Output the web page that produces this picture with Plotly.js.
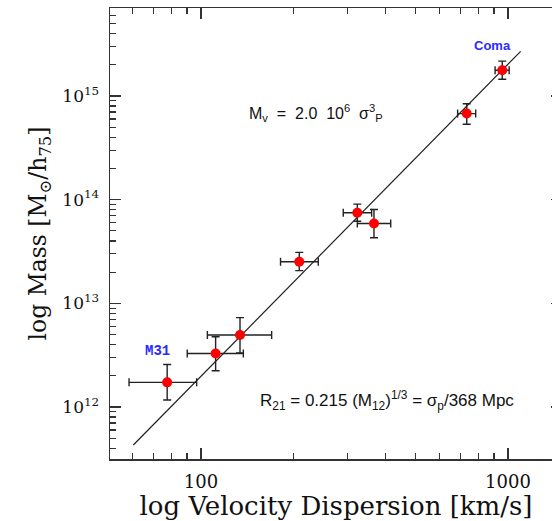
<!DOCTYPE html>
<html>
<head>
<meta charset="utf-8">
<script src="https://cdn.plot.ly/plotly-3.0.1.min.js"></script>
<style>
html,body{margin:0;padding:0;overflow:hidden;background:#fff;width:552px;height:521px;}
#chart{width:563px;height:521px;}
</style>
</head>
<body>
<div id="chart"></div>
<script>
// Velocity dispersion (km/s) and mass (M_sun/h75) of the systems
const systems = ['M31', 'S2', 'S3', 'S4', 'S5', 'S6', 'S7', 'Coma'];
const sigma = [77.6, 111.6, 134, 209, 323, 366, 734, 958];
const mass = [1.73e12, 3.28e12, 4.95e12, 2.52e13, 7.47e13, 5.9e13, 6.77e14, 1.77e15];
const sigmaErrPlus = [19.2, 25.8, 35.9, 32, 36.7, 49, 51, 51];
const sigmaErrMinus = [19.3, 21.4, 29.1, 27.4, 32.3, 43, 48.5, 50];
const massErrPlus = [0.84e12, 1.48e12, 2.34e12, 0.58e13, 1.59e13, 2.15e13, 1.66e14, 0.4e15];
const massErrMinus = [0.56e12, 1.04e12, 1.62e12, 0.45e13, 1.28e13, 1.6e13, 1.42e14, 0.32e15];

// Fitted relation M_v = 2.0e6 sigma^3 (end points)
const fitSigma = [60.2, 1100];
const fitMass = [4.3e11, 2.7e15];

// Tick labels
const xTickVals = [100, 1000];
const xTickText = ['100', '1000'];
const yTickVals = [1e12, 1e13, 1e14, 1e15];
const yTickText = ['10<sup>12</sup>', '10<sup>13</sup>', '10<sup>14</sup>', '10<sup>15</sup>'];

// minor tick positions
const xMinor = [];
for (const d of [10, 100, 1000]) for (let k = 2; k <= 9; k++) xMinor.push(k * d);
const yMinor = [];
for (const e of [11, 12, 13, 14, 15]) for (let k = 2; k <= 9; k++) yMinor.push(k * Math.pow(10, e));

const serif = 'DejaVu Serif, Liberation Serif, serif';
const sans = 'Liberation Sans';
const axisColor = '#333';

const traces = [
  {
    x: fitSigma, y: fitMass, mode: 'lines', type: 'scatter',
    line: {color: '#222', width: 1.2}, hoverinfo: 'skip', showlegend: false
  },
  {
    x: sigma, y: mass, text: systems, mode: 'markers', type: 'scatter',
    marker: {color: '#ff0000', size: 10},
    error_x: {type: 'data', symmetric: false, array: sigmaErrPlus, arrayminus: sigmaErrMinus,
              color: '#222', thickness: 1.4, width: 4},
    error_y: {type: 'data', symmetric: false, array: massErrPlus, arrayminus: massErrMinus,
              color: '#222', thickness: 1.4, width: 4},
    showlegend: false
  }
];

const axisCommon = {
  type: 'log', showgrid: false, zeroline: false,
  showline: true, linecolor: axisColor, linewidth: 1.5, mirror: 'allticks',
  ticks: 'inside', ticklen: 11, tickwidth: 1.3, tickcolor: axisColor,
  tickmode: 'array',
  ticklabelstandoff: 6
};

const layout = {
  width: 563, height: 521,
  margin: {l: 110, r: 1, t: 8, b: 62},
  paper_bgcolor: '#fff', plot_bgcolor: '#fff',
  xaxis: Object.assign({}, axisCommon, {
    range: [1.7036, 3.176],
    tickvals: xTickVals, ticktext: xTickText,
    tickfont: {family: serif, size: 18, color: '#111'},
    minor: {ticks: 'inside', ticklen: 6, tickwidth: 1.2, tickcolor: axisColor, tickmode: 'array', tickvals: xMinor},
    title: {text: 'log Velocity Dispersion [km/s]', font: {family: serif, size: 26, color: '#111'}, standoff: 3}
  }),
  yaxis: Object.assign({}, axisCommon, {
    range: [11.4986, 15.849],
    tickvals: yTickVals, ticktext: yTickText,
    tickfont: {family: serif, size: 17, color: '#111'},
    minor: {ticks: 'inside', ticklen: 6, tickwidth: 1.2, tickcolor: axisColor, tickmode: 'array', tickvals: yMinor},
    title: {text: 'log Mass [M<sub>⊙</sub>/h<sub>75</sub>]', font: {family: serif, size: 23.5, color: '#111'}, standoff: 9}
  }),
  annotations: [
    {x: Math.log10(958), y: Math.log10(1.77e15), xref: 'x', yref: 'y', showarrow: false,
     xshift: -10, yshift: 25,
     text: '<b>Coma</b>', font: {family: sans, size: 13, color: '#2b2bff'}},
    {x: Math.log10(77.6), y: Math.log10(1.73e12), xref: 'x', yref: 'y', showarrow: false,
     xshift: -10, yshift: 31,
     text: '<b>M31</b>', font: {family: 'Liberation Mono', size: 14, color: '#2b2bff'}},
    {x: 247, y: 113, xref: 'paper', yref: 'paper', showarrow: false, xanchor: 'left', yanchor: 'middle',
     text: 'M<sub>v</sub>  =  2.0  10<sup>6</sup>  σ<sup>3</sup><sub>P</sub>',
     font: {family: sans, size: 16, color: '#111'}},
    {x: 258, y: 400, xref: 'paper', yref: 'paper', showarrow: false, xanchor: 'left', yanchor: 'middle',
     text: 'R<sub>21</sub> = 0.215 (M<sub>12</sub>)<sup>1/3</sup> = σ<sub>p</sub>/368 Mpc',
     font: {family: sans, size: 17, color: '#111'}}
  ]
};

// convert pixel positions of the two equation labels into paper coordinates
const plotW = 563 - 110 - 1, plotH = 521 - 8 - 62;
for (const a of layout.annotations) {
  if (a.xref === 'paper') {
    a.x = (a.x - 110) / plotW;
    a.y = 1 - (a.y - 8) / plotH;
  }
}

Plotly.newPlot('chart', traces, layout, {displayModeBar: false, staticPlot: true});
</script>
</body>
</html>
